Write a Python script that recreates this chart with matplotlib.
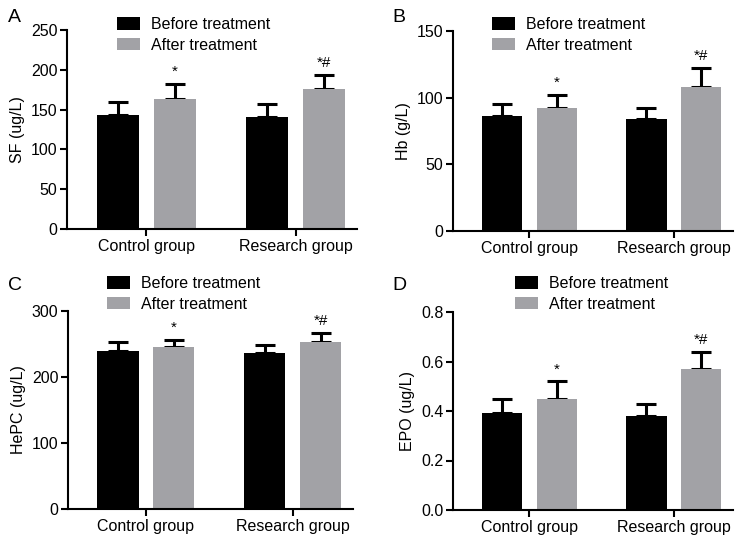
"""Four-panel bar chart: iron metabolism markers before/after treatment."""
import numpy as np
import matplotlib
matplotlib.use("Agg")
import matplotlib.pyplot as plt

plt.rcParams["font.family"] = ["Liberation Sans", "DejaVu Sans"]

groups = ["Control group", "Research group"]
series = ["Before treatment", "After treatment"]

# panel A: SF
sf_before = [143, 141]
sf_before_err = [16, 16]
sf_after = [163, 176]
sf_after_err = [19, 18]
# panel B: Hb
hb_before = [86, 84]
hb_before_err = [9, 8]
hb_after = [92, 108]
hb_after_err = [10, 14]
# panel C: HePC
hepc_before = [240, 237]
hepc_before_err = [13, 11]
hepc_after = [246, 253]
hepc_after_err = [10, 13]
# panel D: EPO
epo_before = [0.39, 0.38]
epo_before_err = [0.06, 0.05]
epo_after = [0.45, 0.57]
epo_after_err = [0.07, 0.07]

marks = ["*", "*#"]

BLACK = "#000000"
GREY = "#a2a2a6"
W, H = 749, 538


def px(x, y):
    return x / W, 1 - y / H


def panel(rect, letter, letter_xy, ylabel, before, berr, after, aerr,
          ylim, yticks, yfmt, leg_xy):
    ax = fig.add_axes(rect)
    x = np.arange(len(groups))
    off, bw = 0.19, 0.28
    ax.bar(x - off, before, bw, color=BLACK, zorder=2, label=series[0])
    ax.bar(x + off, after, bw, color=GREY, zorder=2, label=series[1])
    for xs, vals, errs in ((x - off, before, berr), (x + off, after, aerr)):
        ax.errorbar(xs, vals, yerr=[np.zeros(len(errs)), errs], fmt="none",
                    ecolor="black", elinewidth=2.2, capsize=7, capthick=2.2,
                    zorder=1)
    span = ylim[1] - ylim[0]
    for i in range(len(groups)):
        ax.text(x[i] + off, after[i] + aerr[i] + span * 0.025, marks[i],
                ha="center", va="bottom", fontsize=11)
    ax.set_xlim(-0.53, 1.41)
    ax.set_ylim(*ylim)
    ax.set_yticks(yticks)
    ax.set_yticklabels([yfmt.format(v) for v in yticks])
    ax.set_xticks(x)
    ax.set_xticklabels(groups)
    for s in ("top", "right"):
        ax.spines[s].set_visible(False)
    for s in ("left", "bottom"):
        ax.spines[s].set_linewidth(1.5)
    ax.tick_params(width=1.5, length=5, labelsize=11.5, pad=2)
    ax.set_ylabel(ylabel, fontsize=11.5, labelpad=4)
    ax.legend(loc="upper left", bbox_to_anchor=px(*leg_xy),
              bbox_transform=fig.transFigure, frameon=False, fontsize=11.5,
              borderpad=0, borderaxespad=0, handlelength=1.45,
              handleheight=0.85, handletextpad=0.7, labelspacing=0.35)
    fig.text(*px(*letter_xy), letter, fontsize=14, ha="left", va="center")
    return ax


fig = plt.figure(figsize=(W / 100, H / 100), dpi=100)

panel([67 / W, 1 - 229 / H, 290 / W, 199 / H], "A", (8, 18), "SF (ug/L)",
      sf_before, sf_before_err, sf_after, sf_after_err,
      (0, 250), [0, 50, 100, 150, 200, 250], "{:d}", (117, 17))
panel([453 / W, 1 - 231 / H, 280 / W, 200 / H], "B", (392, 18), "Hb (g/L)",
      hb_before, hb_before_err, hb_after, hb_after_err,
      (0, 150), [0, 50, 100, 150], "{:d}", (492, 17))
panel([68 / W, 1 - 509 / H, 285 / W, 198 / H], "C", (8, 286), "HePC (ug/L)",
      hepc_before, hepc_before_err, hepc_after, hepc_after_err,
      (0, 300), [0, 100, 200, 300], "{:d}", (107, 276))
panel([453 / W, 1 - 510 / H, 280 / W, 198 / H], "D", (392, 286), "EPO (ug/L)",
      epo_before, epo_before_err, epo_after, epo_after_err,
      (0, 0.8), [0.0, 0.2, 0.4, 0.6, 0.8], "{:.1f}", (515, 276))

fig.savefig("out.png", dpi=100)
